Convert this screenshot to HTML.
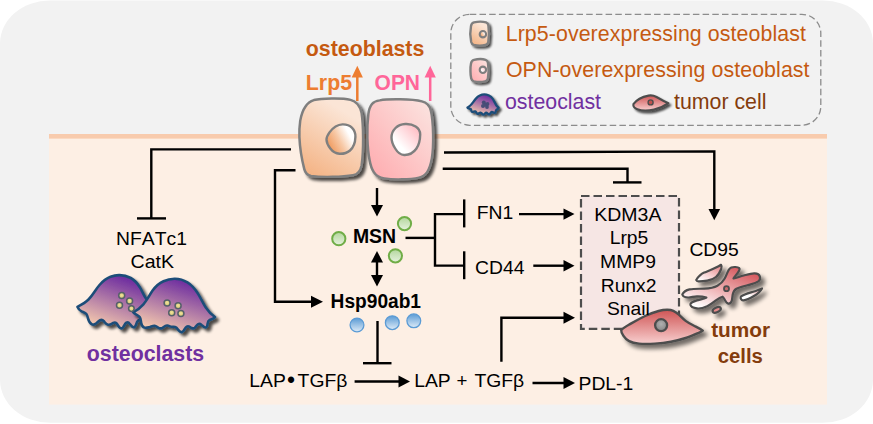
<!DOCTYPE html>
<html lang="en">
<head>
<meta charset="utf-8">
<title>Osteoblast signalling diagram</title>
<style>
  html, body { margin: 0; padding: 0; background: #ffffff; }
  body { width: 873px; height: 424px; overflow: hidden; }
  svg { display: block; }
  text { font-family: "Liberation Sans", Arial, sans-serif; font-kerning: none; font-feature-settings: "kern" 0; }
  .r { font-size: 18.67px; fill: #000; }
  .b { font-size: 18.67px; font-weight: bold; fill: #000; }
  .B { font-size: 21.33px; font-weight: bold; }
  .L { font-size: 21.33px; }
  .ln { fill: none; stroke: #000; stroke-width: 2.4; stroke-linejoin: miter; }
</style>
</head>
<body>
<svg width="873" height="424" viewBox="0 0 873 424">
  <defs>
    <filter id="sh" x="-20%" y="-20%" width="150%" height="150%">
      <feGaussianBlur in="SourceAlpha" stdDeviation="1.7"/>
      <feOffset dx="3.2" dy="3.2" result="o"/>
      <feComponentTransfer><feFuncA type="linear" slope="0.7"/></feComponentTransfer>
      <feMerge><feMergeNode/><feMergeNode in="SourceGraphic"/></feMerge>
    </filter>
    <filter id="shs" x="-30%" y="-30%" width="170%" height="170%">
      <feGaussianBlur in="SourceAlpha" stdDeviation="1.3"/>
      <feOffset dx="2.4" dy="2.4" result="o"/>
      <feComponentTransfer><feFuncA type="linear" slope="0.7"/></feComponentTransfer>
      <feMerge><feMergeNode/><feMergeNode in="SourceGraphic"/></feMerge>
    </filter>
    <linearGradient id="gL" x1="0.75" y1="0" x2="0.25" y2="1">
      <stop offset="0.15" stop-color="#fbe5d6"/>
      <stop offset="1" stop-color="#f4b486"/>
    </linearGradient>
    <linearGradient id="gR" x1="0" y1="1" x2="1" y2="0">
      <stop offset="0" stop-color="#ffa9ad"/>
      <stop offset="1" stop-color="#fbe6e2"/>
    </linearGradient>
    <linearGradient id="gLn" x1="0" y1="0.8" x2="1" y2="0.25">
      <stop offset="0.08" stop-color="#f09a5e"/>
      <stop offset="0.45" stop-color="#f7c8a5"/>
      <stop offset="0.8" stop-color="#ffffff"/>
    </linearGradient>
    <linearGradient id="gRn" x1="0" y1="1" x2="1" y2="0">
      <stop offset="0.3" stop-color="#ffffff"/>
      <stop offset="1" stop-color="#ffb0b8"/>
    </linearGradient>
    <linearGradient id="gOc" x1="0.75" y1="0" x2="0.25" y2="1">
      <stop offset="0.1" stop-color="#7030a0"/>
      <stop offset="1" stop-color="#fbd0ae"/>
    </linearGradient>
    <linearGradient id="gTc" x1="0" y1="0" x2="0" y2="1">
      <stop offset="0" stop-color="#cf5555"/>
      <stop offset="1" stop-color="#f8cfcf"/>
    </linearGradient>
    <linearGradient id="gFr" x1="0.9" y1="0" x2="0.15" y2="1">
      <stop offset="0.1" stop-color="#d65b60"/>
      <stop offset="0.55" stop-color="#eeb0b2"/>
      <stop offset="0.95" stop-color="#ffffff"/>
    </linearGradient>
    <radialGradient id="gGreen" cx="0.5" cy="0.35" r="0.7">
      <stop offset="0" stop-color="#e2f0d9"/>
      <stop offset="1" stop-color="#a9d18e"/>
    </radialGradient>
    <linearGradient id="gBlue" x1="0" y1="0" x2="0" y2="1">
      <stop offset="0" stop-color="#5b9bd5"/>
      <stop offset="1" stop-color="#deebf7"/>
    </linearGradient>
    <linearGradient id="gGr" x1="0" y1="0" x2="0" y2="1">
      <stop offset="0" stop-color="#b3d69c"/>
      <stop offset="1" stop-color="#e6f2de"/>
    </linearGradient>

    <filter id="sh2" x="-20%" y="-30%" width="150%" height="180%">
      <feGaussianBlur in="SourceAlpha" stdDeviation="2.3"/>
      <feOffset dx="3.8" dy="3.8" result="o"/>
      <feComponentTransfer><feFuncA type="linear" slope="0.55"/></feComponentTransfer>
      <feMerge><feMergeNode/><feMergeNode in="SourceGraphic"/></feMerge>
    </filter>
    <linearGradient id="gFr1" x1="1" y1="0" x2="0.2" y2="1">
      <stop offset="0.1" stop-color="#e58a8d"/>
      <stop offset="0.6" stop-color="#f6cfd0"/>
      <stop offset="1" stop-color="#ffffff"/>
    </linearGradient>
    <linearGradient id="gFr2" x1="1" y1="0" x2="0" y2="1">
      <stop offset="0" stop-color="#e79a9c"/>
      <stop offset="0.6" stop-color="#ffffff"/>
    </linearGradient>
    <radialGradient id="gNuc" cx="0.5" cy="0.4" r="0.6">
      <stop offset="0" stop-color="#b0b0b0"/>
      <stop offset="1" stop-color="#858585"/>
    </radialGradient>
    <radialGradient id="gYn" cx="0.5" cy="0.45" r="0.6">
      <stop offset="0" stop-color="#f1e59a"/>
      <stop offset="1" stop-color="#cdbf6e"/>
    </radialGradient>
  </defs>

  <!-- outer panel -->
  <rect x="0" y="0.5" width="873" height="422.3" rx="50" ry="43" fill="#f2f2f2"/>
  <!-- peach region -->
  <rect x="49" y="136" width="778" height="268.6" fill="#fdefe4"/>
  <rect x="49" y="134" width="778" height="4.6" fill="#f8cbad"/>

  <!-- legend box -->
  <rect x="450.8" y="14.3" width="370" height="111" rx="19" ry="19" fill="none" stroke="#8c8c8c" stroke-width="1.3" stroke-dasharray="6.5 3.2"/>


  <!-- legend icons -->
  <g filter="url(#shs)">
    <path d="M474 22.4 C 477.5 21.6, 483 21.6, 486 22.4 C 487.6 22.9, 488.2 24, 488.4 25.6 C 489 30, 489 38, 488.3 42 C 488 43.8, 487 44.7, 485.4 45 C 482.5 45.6, 477 45.6, 474 45 C 472.4 44.6, 471.6 43.6, 471.2 42 C 470.3 38, 470.2 30, 471 26 C 471.4 24, 472.3 22.8, 474 22.4 Z" fill="url(#gL)" stroke="#7f7f7f" stroke-width="2.4"/>
    <path d="M474 59.8 C 477.5 59, 483 59, 485.6 59.8 C 487.2 60.3, 487.8 61.4, 488 63 C 488.6 67, 488.6 75, 487.9 78.4 C 487.6 80.2, 486.6 81.1, 485 81.4 C 482.3 82, 477 82, 474 81.4 C 472.4 81, 471.6 80, 471.2 78.4 C 470.3 75, 470.2 67, 471 63.4 C 471.4 61.4, 472.3 60.2, 474 59.8 Z" fill="url(#gR)" stroke="#7f7f7f" stroke-width="2.4"/>
  </g>
  <circle cx="482.9" cy="34.2" r="3.2" fill="url(#gLn)" stroke="#7f7f7f" stroke-width="2.1"/>
  <circle cx="482.9" cy="69.8" r="3.2" fill="url(#gRn)" stroke="#7f7f7f" stroke-width="2.1"/>
  <!-- legend osteoclast -->
  <g filter="url(#shs)">
    <path d="M467.5 107.5 C 471 106, 473 102, 476 98.5 C 479 95, 483 94, 486.5 94.6 C 490 95.2, 493 98.5, 494.5 102 C 495.5 104.5, 497 106.5, 498.6 107.8 C 497.8 109.2, 496.8 109.4, 496.2 110.2 C 495.6 111.2, 495.8 112.6, 494.8 113 C 493.8 113.4, 493 111.8, 491.8 112 C 490.6 112.2, 490.4 114.2, 489.2 114.4 C 488 114.6, 487.4 112.8, 486.2 112.8 C 485 112.8, 484.6 114.6, 483.4 114.6 C 482.2 114.6, 481.8 112.8, 480.6 112.6 C 479.4 112.4, 478.8 114, 477.6 113.8 C 476.4 113.6, 476.4 111.8, 475.2 111.4 C 474 111, 473 112.4, 472 111.8 C 471 111.2, 471.6 109.6, 470.6 109 C 469.6 108.4, 468.2 108.6, 467.5 107.5 Z" fill="url(#gOc)" stroke="#1f4e79" stroke-width="2.4" stroke-linejoin="round"/>
  </g>
  <g fill="#3f4b74" opacity="0.92"><circle cx="483.8" cy="102.6" r="2"/><circle cx="487.5" cy="104" r="1.9"/><circle cx="483" cy="105.9" r="2"/><circle cx="487" cy="107" r="1.9"/><circle cx="485.2" cy="104.8" r="2"/></g>
  <!-- legend tumor cell -->
  <g filter="url(#shs)">
    <path d="M633.4 104.2 C 636 100.5, 642 96.8, 648.5 95.6 C 651.5 95.1, 654 95.6, 656.5 97 C 660 99, 664.5 101.6, 668.4 103.2 C 665 105.6, 660 108.4, 654 109.6 C 648 110.8, 641 110.6, 637.4 109.2 C 634.8 108.2, 633 106.4, 633.4 104.2 Z" fill="url(#gTc)" stroke="#4d4d4d" stroke-width="2.1" stroke-linejoin="round"/>
  </g>
  <circle cx="650.6" cy="102.4" r="2.5" fill="#c0504d" stroke="#4d4d4d" stroke-width="1.4"/>

  <!-- LINES -->
  <g class="ln">
    <path d="M291 149.4 H151.3 V218.4"/>
    <path d="M137 218.4 H166"/>
    <path d="M295.5 170.2 H275 V301.7 H313"/>
    <path d="M377 188 V206"/>
    <path d="M377 262 V276"/>
    <path d="M405.5 237.9 H435"/>
    <path d="M464.2 214.1 H435 V265.6 H464.2"/>
    <path d="M464.2 199.4 V227.4"/>
    <path d="M464.2 251.3 V279.2"/>
    <path d="M519 214.1 H565"/>
    <path d="M533.3 265.7 H565"/>
    <path d="M444 152.5 L714.3 151.4 V210"/>
    <path d="M442.7 168.8 H627.5 V182.4"/>
    <path d="M613 182.4 H641.5"/>
    <path d="M377.5 321 V363.2"/>
    <path d="M363 363.2 H391.5"/>
    <path d="M354.6 381.5 H400"/>
    <path d="M501.4 361.7 V317.8 H565"/>
    <path d="M532.5 383 H565"/>
  </g>
  <!-- arrowheads -->
  <g fill="#000">
    <path d="M323 301.7 L311 295.7 V307.7 Z"/>
    <path d="M377 216.5 L371 205 H383 Z"/>
    <path d="M377 251 L371 262.5 H383 Z"/>
    <path d="M377 286.5 L371 275 H383 Z"/>
    <path d="M574.5 214.1 L563.5 208.4 V219.8 Z"/>
    <path d="M574.5 265.7 L563.5 260 V271.4 Z"/>
    <path d="M714.3 220.3 L708.5 209 H720.1 Z"/>
    <path d="M410 381.5 L398.5 375.5 V387.5 Z"/>
    <path d="M575 317.8 L563.5 311.8 V323.8 Z"/>
    <path d="M575 383 L563.5 377 V389 Z"/>
  </g>


  <!-- coloured up arrows -->
  <path d="M357.3 101 V76" stroke="#ed7d31" stroke-width="2.5" fill="none"/>
  <path d="M357.3 65.8 L351.7 77.5 H362.9 Z" fill="#ed7d31"/>
  <path d="M430.2 101 V76" stroke="#ff6699" stroke-width="2.5" fill="none"/>
  <path d="M430.2 65.8 L424.6 77.5 H435.8 Z" fill="#ff6699"/>

  <!-- osteoblast cells -->
  <g filter="url(#sh)">
    <path transform="translate(0 2.655) scale(1 0.985)" d="M313.9 98.9 C 321 97.2, 342 96.6, 350.5 98.7 C 356 100, 360 105, 361.6 112 C 363.4 124, 363.8 150, 361.6 165.2 C 360.6 170.5, 358 174.3, 353 175.2 C 343 177, 322 177.5, 311 176 C 307 175.2, 305.3 173, 304.3 169 C 302 160, 299.8 146, 299.4 136.4 C 299.2 130, 299.5 125, 300.2 120 C 301.5 113, 303 109, 305.5 105.5 C 307.5 102.2, 310 100, 313.9 98.9 Z" fill="url(#gL)" stroke="#7f7f7f" stroke-width="2.5" stroke-linejoin="round"/>
  </g>
  <g filter="url(#sh)">
    <path transform="translate(0 2.2) scale(1 0.9877)" d="M379.7 99.4 C 388 97.8, 412 97.9, 421.8 100.4 C 426.5 101.6, 429.5 104.5, 430.8 109.5 C 433.4 120, 434 146, 431.8 158.5 C 430.8 164, 429.5 168.5, 427.2 172 C 425 175.2, 422.5 176.8, 419 177.6 C 410 179.6, 394 180, 384.2 178.4 C 379 177.5, 376 175.5, 373.8 172 C 371.5 168.5, 370.5 165, 369.6 160 C 367.2 148, 366.5 128, 368.4 113 C 369 108.5, 370 105.5, 372 103 C 373.8 100.8, 376 99.9, 379.7 99.4 Z" fill="url(#gR)" stroke="#7f7f7f" stroke-width="2.5" stroke-linejoin="round"/>
  </g>
  <!-- nuclei -->
  <path d="M342.5 124.4 C 350.5 124.2, 355.8 129.5, 355.4 137 C 355.2 143, 353.5 147.5, 350 150.5 C 347 153, 343.5 154, 339.4 153.8 C 335.5 153.6, 332.5 151.5, 330.3 148.6 C 328.3 146, 326.6 142.8, 326.5 139.8 C 326.4 137, 327.8 134.8, 329.5 132.4 C 332.5 128.3, 336.5 124.6, 342.5 124.4 Z" fill="url(#gLn)" stroke="#7f7f7f" stroke-width="2.4"/>
  <path d="M405.2 124 C 413 123.6, 420.3 127.5, 420.2 134.5 C 420.1 140, 419 145, 416.3 148.8 C 413.5 152.7, 409 155.2, 404.1 155 C 400 154.8, 397.3 152, 395.2 148.5 C 393 145, 391.5 141, 391.5 137.4 C 391.5 133.5, 393 130.5, 395.5 128 C 398 125.5, 401 124.2, 405.2 124 Z" fill="url(#gRn)" stroke="#7f7f7f" stroke-width="2.4"/>

  <!-- green / blue vesicles -->
  <g stroke="#70ad47" stroke-width="2" fill="url(#gGr)">
    <circle cx="338.8" cy="238.7" r="6.6"/>
    <circle cx="404.5" cy="223.6" r="6.6"/>
    <circle cx="395.4" cy="255.8" r="6.6"/>
  </g>
  <g stroke="#5b9bd5" stroke-width="1.3" fill="url(#gBlue)">
    <circle cx="357" cy="325" r="6.9"/>
    <circle cx="392.3" cy="322.7" r="6.9"/>
    <circle cx="413.8" cy="320.8" r="6.9"/>
  </g>


  <!-- osteoclasts -->
  <g filter="url(#sh)">
    <path d="M77.4 306.8 C 82 304.5, 85.5 302.5, 88.5 299.5 C 93 295, 95.5 289.5, 99.5 285 C 103 281, 106.5 278.3, 110.5 276.8 C 113.5 275.6, 116.5 275, 119.5 275.1 C 123.5 275.2, 127.5 276.3, 130.8 278 C 134.5 280, 137.5 283.5, 139.8 287.2 C 142 291, 143.5 294.5, 145.2 297.2 C 147.5 301, 150 304, 153 306.5 L 146 322 C 144.5 324.2, 142.5 321.5, 140.8 320.4 C 139 319.2, 137.6 320.6, 136.8 322.6 C 136 324.8, 135.6 327, 134 327.3 C 132.2 327.6, 131 325.6, 129.8 323.9 C 128.8 322.5, 127.6 321.9, 126.4 322.7 C 124.8 323.8, 124.2 325.8, 123.2 327.2 C 122.4 328.3, 121.2 328.6, 120.2 328 C 118.6 327, 117.8 324.8, 116.6 323.5 C 115.6 322.4, 114.4 322.2, 113.2 322.9 C 111.6 323.8, 110 325, 108 324.7 C 106 324.4, 105 322.6, 103.8 321.2 C 102.8 320, 101.4 319.6, 100 320.2 C 98.2 321, 97 322.8, 95.4 323.9 C 94.2 324.7, 92.8 324.9, 91.6 324.2 C 89.6 323, 88.6 320.6, 88 318.4 C 87.6 316.8, 87.4 315.2, 86.4 314 C 85.2 312.6, 83.2 312.2, 81.6 311.4 C 79.8 310.5, 78.2 308.8, 77.4 306.8 Z" fill="url(#gOc)" stroke="#1f4e79" stroke-width="2.6" stroke-linejoin="round"/>
  </g>
  <g filter="url(#sh)">
    <path d="M133.2 312.3 C 137 310.3, 140.5 307.6, 143.4 304.3 C 147 300.2, 149.5 295, 152.6 290.6 C 155.6 286.4, 159.3 283.2, 163.5 281.3 C 167 279.7, 170.8 278.8, 174.5 278.7 C 179 278.6, 183.5 279.9, 187.4 282.3 C 192 285.1, 195.6 289.6, 198.4 294.3 C 201.2 299, 203 303.2, 205.6 307.2 C 208 310.9, 211.2 314.4, 215 317 C 214 318.8, 211.6 319.2, 209.6 320 C 208.2 320.6, 207.8 322, 207.6 323.6 C 207.4 325.2, 207.4 327, 206 327.4 C 204.4 327.8, 203 326.2, 201.6 325 C 200.6 324.1, 199.4 323.6, 198.2 324.2 C 196.6 325, 196 326.8, 194.8 327.8 C 193.4 328.9, 191.8 328.4, 190.4 327.4 C 189.2 326.5, 188 325.9, 186.8 326.6 C 185.2 327.5, 184.6 329.4, 183.6 330.8 C 182.8 331.9, 181.4 332.3, 180.2 331.6 C 178.6 330.6, 177.6 328.8, 176.2 327.6 C 175.2 326.8, 173.8 326.6, 172.6 326.8 C 170.6 327.1, 169.2 325.8, 167.4 325.5 C 165.8 325.2, 164.6 326.2, 163.4 327.2 C 162.2 328.2, 160.8 328.7, 159.4 328.2 C 157.6 327.5, 156.4 326, 154.6 325.8 C 152.8 325.6, 151.4 326.6, 149.8 327 C 148 327.4, 146.2 328, 144.4 327.6 C 142.4 327.1, 141.6 325, 141.2 323 C 140.8 321, 140.8 318.8, 139.8 317.2 C 138.6 315.3, 135 314.6, 133.2 312.3 Z" fill="url(#gOc)" stroke="#1f4e79" stroke-width="2.6" stroke-linejoin="round"/>
  </g>
  <g fill="url(#gYn)" stroke="#56606b" stroke-width="1.5">
    <circle cx="121.7" cy="295.6" r="3"/><circle cx="129.6" cy="301.1" r="3"/><circle cx="119.5" cy="305.3" r="3"/><circle cx="131.4" cy="308.6" r="2.8"/>
    <circle cx="167.1" cy="302.9" r="3"/><circle cx="178.1" cy="305.7" r="3"/><circle cx="171.7" cy="312.7" r="3"/><circle cx="180.9" cy="313.6" r="3"/>
  </g>

  <!-- dashed gene box -->
  <rect x="581" y="196" width="98" height="132.8" fill="#f6e6e4" stroke="#4d4d4d" stroke-width="2.2" stroke-dasharray="8.5 4"/>


  <!-- fragmented tumour cell -->
  <g filter="url(#sh2)" stroke="#4d4d4d" stroke-width="2.2" stroke-linejoin="round">
    <path d="M696.2 280 C 698.5 276.5, 701 274, 704.2 272.6 C 710 270.2, 716 268, 721 264.8 C 722 266, 721.8 267.5, 721.2 269 C 720 272, 718.5 275, 715.9 277 C 713.5 279, 710.5 280.2, 707.2 280.7 C 704 281.2, 701 281.5, 698.4 281.4 C 697.4 281.4, 696.5 280.9, 696.2 280 Z" fill="url(#gFr1)"/>
    <path d="M682.3 294.5 C 683.5 292, 686 290.2, 689.6 289.4 C 694 288.5, 699 288.9, 704.2 288.7 C 709 288.5, 713.8 287.8, 717.4 285.8 C 720.8 283.9, 723 281.5, 724.7 278.5 C 726.2 276, 727 273, 728.4 270.4 C 729.2 269, 730 268, 731.3 267.5 C 733.5 266.7, 737.5 266.8, 739.3 268.2 C 740.3 269.2, 739 271, 737.9 272.6 C 736.6 274.6, 734.5 276.5, 733.5 278.5 C 736.5 277.8, 740 276.5, 743.7 275.5 C 747.5 274.5, 751.5 273.2, 754.7 273.4 C 757 273.5, 759.2 274.6, 759.8 276.3 C 760.4 278, 759.8 280.2, 758.3 281.4 C 755.5 283.4, 751.5 284, 748.1 285 C 744 286.2, 739.5 287, 736.4 288.7 C 734.3 289.9, 733.2 292, 732.7 294.5 C 732.2 297, 732.4 300, 731.3 301.9 C 730.5 303.3, 728.8 303.9, 727.6 303.3 C 726.2 302.6, 725.6 301, 724.7 299.7 C 724 298.6, 723.5 297.3, 722.5 296.7 C 720.5 297.2, 718 298.8, 715.9 300.4 C 713.2 302.5, 710.5 304.8, 707.2 306.2 C 704 307.6, 700 308.8, 696.9 308.4 C 694 308, 690.8 306.8, 690.4 304.8 C 690.1 303, 693 301.6, 696.9 300.4 C 700.5 299.4, 704.5 298.8, 706.4 297.5 C 703.5 296.6, 700 296.2, 696.9 296.3 C 693.8 296.4, 691 297.5, 688.2 297.5 C 685.8 297.5, 683 296.5, 682.3 294.5 Z" fill="url(#gFr)"/>
    <path d="M740.8 296.7 C 743.5 294.8, 747 293.6, 751 292.4 C 755 291.2, 759 289.6, 762 288.4 C 760.5 291.2, 757.5 294, 753.9 296 C 750.5 297.9, 746.8 299.8, 743.7 300.4 C 741.8 300.7, 740 298.5, 740.8 296.7 Z" fill="url(#gFr2)"/>
    <ellipse cx="716.7" cy="309.9" rx="4.4" ry="2.3" transform="rotate(-25 716.7 309.9)" fill="#e58b8b"/>
    <circle cx="726.5" cy="288.7" r="2.5" fill="#c9696b" stroke-width="1.8"/>
  </g>
  <!-- intact tumour cell -->
  <g filter="url(#sh2)">
    <path d="M621.2 330.1 C 623.5 327.8, 626.8 326, 630.4 323.9 C 635 321.2, 640 318.4, 645.1 316 C 649.5 314, 654 312.2, 658.6 311 C 661.5 310.2, 664.3 309.8, 667.2 309.8 C 669.4 309.8, 671.5 310, 673.3 310.8 C 675.4 311.7, 677.2 313.1, 678.9 314.7 C 681.1 316.8, 683.2 319.1, 685.6 320.9 C 688.7 323.2, 692.2 324.8, 695.4 326.4 C 698 327.7, 700.8 329, 702.8 330.7 C 701.5 331.8, 699.8 332.4, 697.9 333.1 C 694 334.7, 689.8 336.6, 685.6 338 C 680.8 339.6, 675.8 340.8, 670.9 341.7 C 665.6 342.7, 660.2 343.3, 654.9 343.6 C 649.6 343.9, 644.2 344.1, 639 343.6 C 635.6 343.3, 632 342.6, 629.2 341.1 C 626.8 339.9, 624.9 338.2, 623.7 336.2 C 622.6 334.4, 621 332.3, 621.2 330.1 Z" fill="url(#gTc)" stroke="#4d4d4d" stroke-width="2.4" stroke-linejoin="round"/>
  </g>
  <circle cx="661.1" cy="325.2" r="6" fill="url(#gNuc)" stroke="#4d4d4d" stroke-width="2.3"/>

  <!-- TEXT -->
  <text class="B" x="305.8" y="56" fill="#c55a11">osteoblasts</text>
  <text class="B" x="305.8" y="90" fill="#ed7d31">Lrp5</text>
  <text class="B" x="374.6" y="90" fill="#ff6699" textLength="45.4" lengthAdjust="spacingAndGlyphs">OPN</text>
  <text class="L" x="505.7" y="40.6" fill="#c55a11" letter-spacing="0.09">Lrp5-overexpressing osteoblast</text>
  <text class="L" x="505.9" y="76.9" fill="#c55a11" letter-spacing="0.09">OPN-overexpressing osteoblast</text>
  <text class="L" x="505" y="109" fill="#7030a0">osteoclast</text>
  <text class="L" x="674" y="109.3" fill="#843c0c">tumor cell</text>

  <text class="r" x="116.1" y="244.5" textLength="70.8" lengthAdjust="spacingAndGlyphs">NFATc1</text>
  <text class="r" x="130.5" y="268.2" textLength="43.5" lengthAdjust="spacingAndGlyphs">CatK</text>
  <text class="B" x="86.8" y="360.8" fill="#7030a0">osteoclasts</text>
  <text class="b" x="352.9" y="243.1" style="font-size:20px" textLength="43.2" lengthAdjust="spacingAndGlyphs">MSN</text>
  <text class="b" x="330.6" y="308.1" style="font-size:20px" textLength="90.4" lengthAdjust="spacingAndGlyphs">Hsp90ab1</text>
  <text class="r" x="476.8" y="218.8" textLength="36.5" lengthAdjust="spacingAndGlyphs">FN1</text>
  <text class="r" x="475.1" y="274.2" textLength="49.4" lengthAdjust="spacingAndGlyphs">CD44</text>
  <text class="r" x="594.3" y="220.6" textLength="67.1" lengthAdjust="spacingAndGlyphs">KDM3A</text>
  <text class="r" x="609.7" y="244.2" textLength="38.6" lengthAdjust="spacingAndGlyphs">Lrp5</text>
  <text class="r" x="600.1" y="268.2" textLength="55.8" lengthAdjust="spacingAndGlyphs">MMP9</text>
  <text class="r" x="600.7" y="291.6" textLength="55.8" lengthAdjust="spacingAndGlyphs">Runx2</text>
  <text class="r" x="606.9" y="315" textLength="43.0" lengthAdjust="spacingAndGlyphs">Snail</text>
  <text class="r" x="689.4" y="256" textLength="49.4" lengthAdjust="spacingAndGlyphs">CD95</text>
  <text class="r" x="249.3" y="387" textLength="36.5" lengthAdjust="spacingAndGlyphs">LAP</text>
  <text class="r" x="287" y="388.4" style="font-size:23px">•</text>
  <text class="r" x="297.6" y="387" textLength="49.8" lengthAdjust="spacingAndGlyphs">TGFβ</text>
  <text class="r" x="414.2" y="386.9" textLength="36.5" lengthAdjust="spacingAndGlyphs">LAP</text>
  <text class="r" x="456.6" y="386.9">+</text>
  <text class="r" x="474.4" y="386.9" textLength="49.8" lengthAdjust="spacingAndGlyphs">TGFβ</text>
  <text class="r" x="578.5" y="389.6" textLength="54.8" lengthAdjust="spacingAndGlyphs">PDL-1</text>
  <text class="B" x="711.2" y="337.3" fill="#843c0c" style="font-size:20.8px">tumor</text>
  <text class="B" x="717.7" y="363.2" fill="#843c0c" style="font-size:20.3px">cells</text>
</svg>
</body>
</html>
